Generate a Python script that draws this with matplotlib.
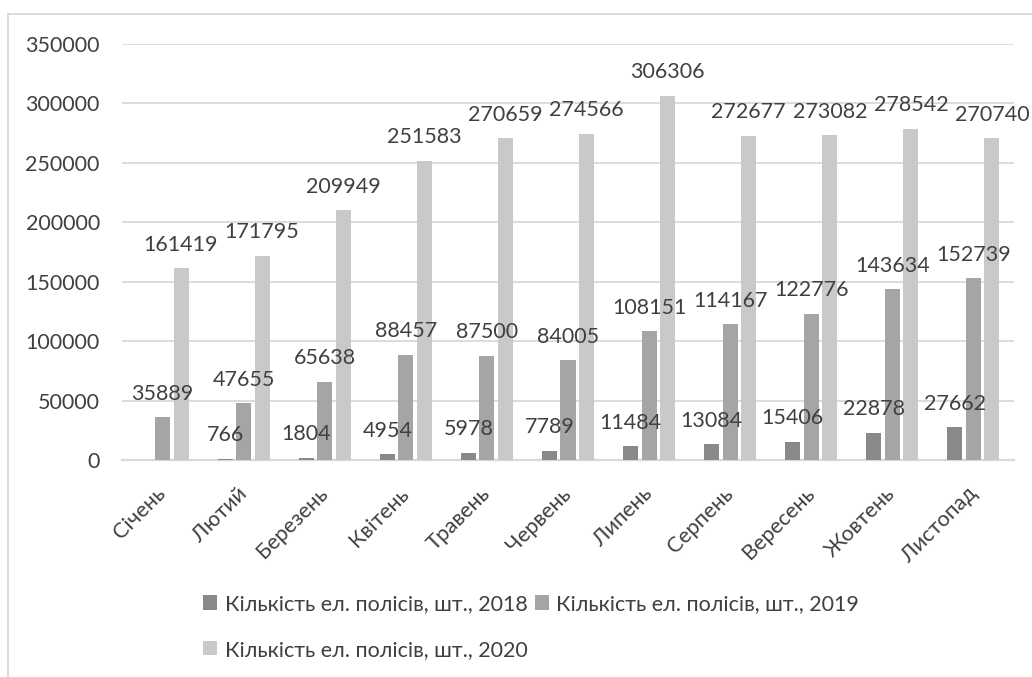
import matplotlib
matplotlib.use("Agg")
import matplotlib.pyplot as plt
import numpy as np
from matplotlib.patches import Rectangle

plt.rcParams['font.family'] = ['Lato', 'DejaVu Sans']

months = ['Січень', 'Лютий', 'Березень', 'Квітень', 'Травень', 'Червень',
          'Липень', 'Серпень', 'Вересень', 'Жовтень', 'Листопад']
policies_2018 = [None, 766, 1804, 4954, 5978, 7789, 11484, 13084, 15406, 22878, 27662]
policies_2019 = [35889, 47655, 65638, 88457, 87500, 84005, 108151, 114167, 122776, 143634, 152739]
policies_2020 = [161419, 171795, 209949, 251583, 270659, 274566, 306306, 272677, 273082, 278542, 270740]
series_names = ['Кількість ел. полісів, шт., 2018',
                'Кількість ел. полісів, шт., 2019',
                'Кількість ел. полісів, шт., 2020']
yticks = [0, 50000, 100000, 150000, 200000, 250000, 300000, 350000]

colors = ['#898989', '#a5a5a5', '#c9c9c9']
text_color = '#404040'
grid_color = '#d9d9d9'
fs = 15.5

W, H = 1032, 677
fig = plt.figure(figsize=(W / 100, H / 100), dpi=100)
ax = fig.add_axes([122 / W, 1 - 460 / H, (1014 - 122) / W, (460 - 44) / H])

# outer chart frame
fig.patches.append(Rectangle((8 / W, -0.1), 1.2, 1.1 - 14 / H, transform=fig.transFigure,
                             fill=False, edgecolor=grid_color, linewidth=1.3))

x = np.arange(len(months))
width = 0.185
pitch = 0.228
handles = []
for i, (vals, col) in enumerate(zip([policies_2018, policies_2019, policies_2020], colors)):
    pos = x + (i - 1) * pitch
    heights = [v if v is not None else 0 for v in vals]
    bars = ax.bar(pos, heights, width, color=col, zorder=3, label=series_names[i])
    handles.append(bars)
    for p, v in zip(pos, vals):
        if v is None:
            continue
        ax.annotate(str(v), (p, v), xytext=(0, 17), textcoords='offset points',
                    ha='center', va='center', fontsize=fs, color=text_color, zorder=4)

ax.set_xlim(-0.5, len(months) - 0.5)
ax.set_ylim(0, 350000)
ax.set_yticks(yticks)
ax.set_yticklabels([str(t) for t in yticks])
ax.set_xticks(x)
ax.set_xticklabels(months, rotation=45, ha='right', va='center', rotation_mode='anchor')
ax.tick_params(axis='both', length=0, labelsize=fs, labelcolor=text_color)
ax.tick_params(axis='y', pad=16)
ax.tick_params(axis='x', pad=22)
ax.grid(axis='y', color=grid_color, linewidth=1.3, zorder=0)
for s in ['top', 'right', 'left']:
    ax.spines[s].set_visible(False)
ax.spines['bottom'].set_color(grid_color)
ax.spines['bottom'].set_linewidth(1.6)

# legend filled row by row: reorder for column-major placement
order = [0, 2, 1]
fig.legend([handles[i] for i in order], [series_names[i] for i in order],
           loc='upper left', bbox_to_anchor=(203 / W, 1 - 594 / H), ncol=2,
           frameon=False, fontsize=fs, labelcolor=text_color,
           handlelength=0.65, handleheight=0.65, handletextpad=0.35,
           columnspacing=0.35, labelspacing=1.2, borderpad=0, borderaxespad=0)

fig.savefig('out.png', dpi=100)
